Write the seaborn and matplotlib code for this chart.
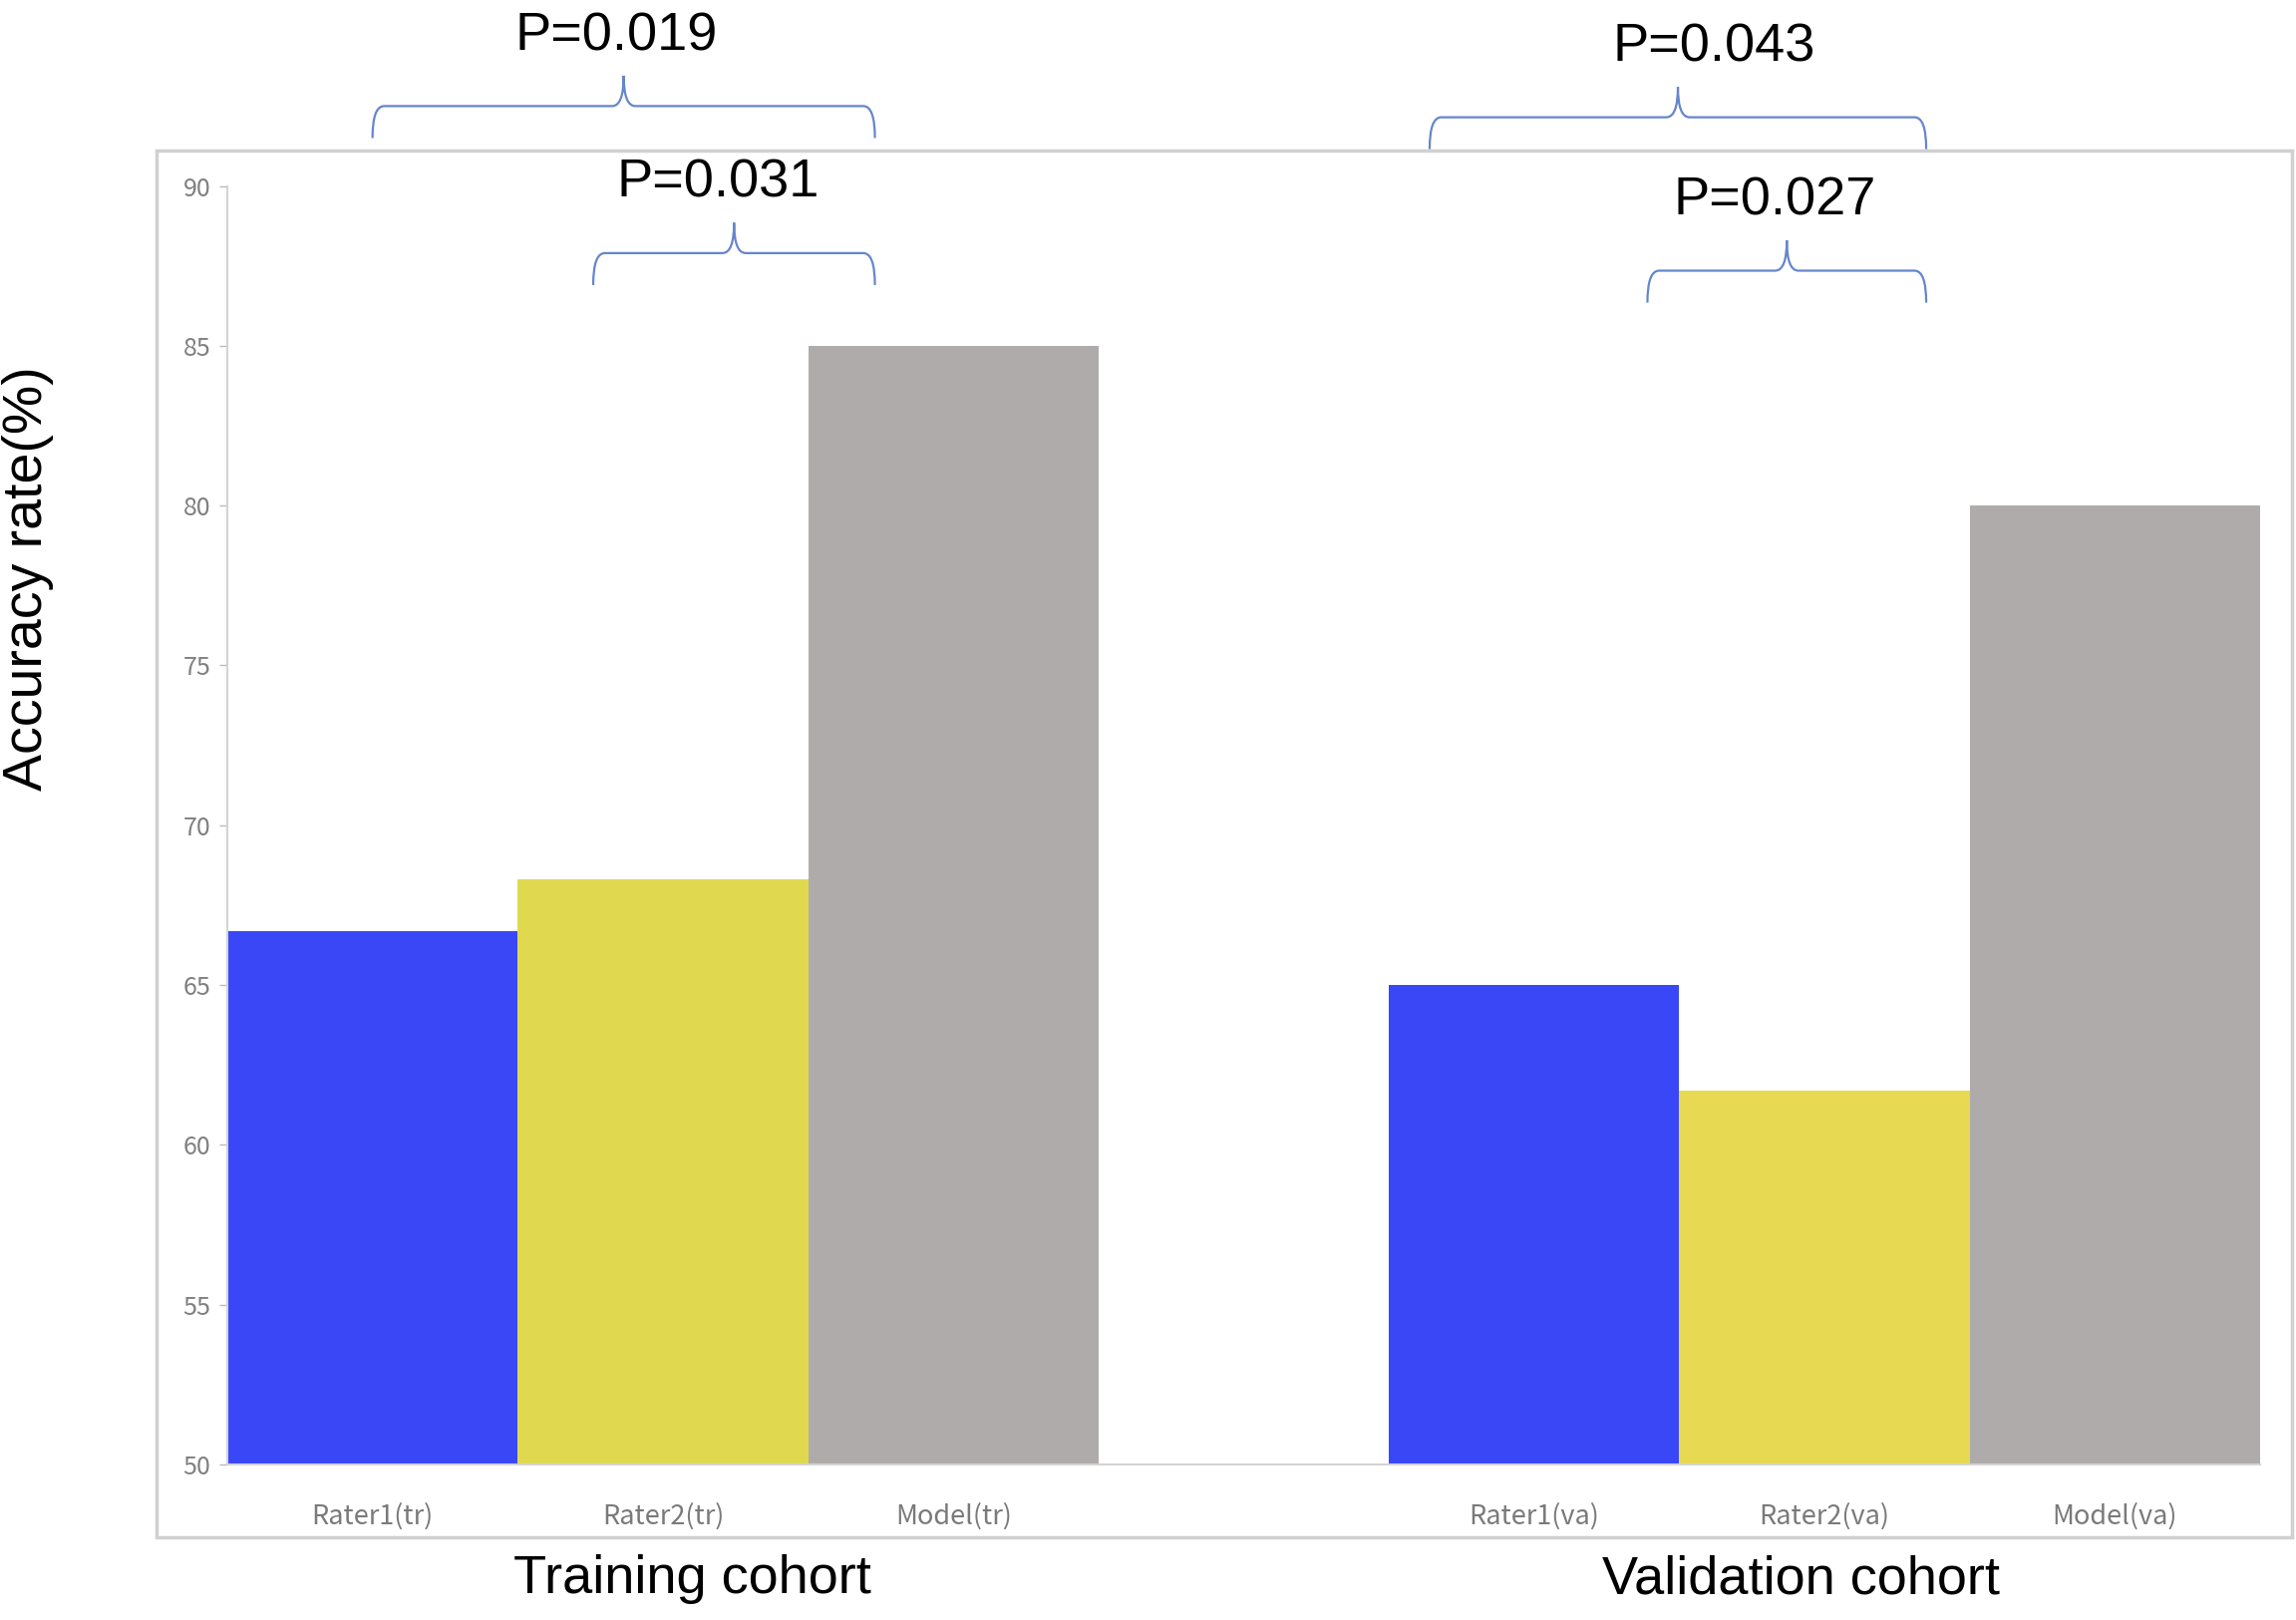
import numpy as np
import pandas as pd
import matplotlib
matplotlib.use('Agg')
import matplotlib.pyplot as plt
import seaborn as sns
from matplotlib.path import Path
from matplotlib.patches import PathPatch, Rectangle

# bar data
labels = ['Rater1(tr)', 'Rater2(tr)', 'Model(tr)', 'Rater1(va)', 'Rater2(va)', 'Model(va)']
accuracy = [66.7, 68.3, 85.0, 65.0, 61.7, 80.0]
colors = ['#3a47f6', '#e0d94f', '#b0abab', '#3a47f6', '#e8d952', '#b0abab']
order = ['Rater1(tr)', 'Rater2(tr)', 'Model(tr)', ' ', 'Rater1(va)', 'Rater2(va)', 'Model(va)']

groups = ['Training cohort', 'Validation cohort']

# significance braces (x in category slots, y in axis units)
p_labels = ['P=0.019', 'P=0.031', 'P=0.043', 'P=0.027']
brace_left = [0.0, 0.76, 3.64, 4.39]
brace_right = [1.73, 1.73, 5.35, 5.35]
brace_base = [91.5, 86.9, 91.15, 86.35]
p_text_x = [0.84, 1.19, 4.62, 4.83]

df = pd.DataFrame({'label': labels, 'acc': accuracy})

sns.set_theme(style='white')
plt.rcParams['font.family'] = ['Liberation Sans', 'DejaVu Sans']
plt.rcParams['text.color'] = 'black'

fig = plt.figure(figsize=(23.03, 16.25), dpi=100)
ax = fig.add_axes([0.0990, 0.0960, 0.8854, 0.7892])

sns.barplot(data=df, x='label', y='acc', hue='label', order=order,
            palette=dict(zip(labels, colors)), legend=False,
            width=1.0, linewidth=0, saturation=1, ax=ax)

ax.set_xlim(-0.5, 6.5)
ax.set_ylim(50, 90)
ax.set_yticks(np.arange(50, 91, 5))
ax.set_xlabel('')
ax.set_ylabel('')

for s in ['top', 'right']:
    ax.spines[s].set_visible(False)
for s in ['left', 'bottom']:
    ax.spines[s].set_color('#d4d4d4')
    ax.spines[s].set_linewidth(1.5)

ax.tick_params(axis='y', left=True, length=6, width=1, color='#bbbbbb',
               labelsize=18, labelcolor='#808080', pad=6)
ax.tick_params(axis='x', bottom=False, labelsize=19.5, labelcolor='#7a7a7a', pad=22)
for t in ax.get_xticklabels() + ax.get_yticklabels():
    t.set_fontfamily(['Noto Sans CJK SC', 'DejaVu Sans'])
    t.set_fontweight('light')

# y label and group labels
fig.text(0.012, 0.643, 'Accuracy rate(%)', rotation=90, fontsize=40,
         ha='center', va='center', color='black')
trans = matplotlib.transforms.blended_transform_factory(ax.transData, fig.transFigure)
ax.text(1.1, 0.025, groups[0], transform=trans, ha='center', va='center',
        fontsize=39, color='black')
ax.text(4.92, 0.025, groups[1], transform=trans, ha='center', va='center',
        fontsize=39, color='black')

# outer frame
fig.patches.append(Rectangle((0.0682, 0.0511), 0.9301, 0.856, transform=fig.transFigure,
                             fill=False, ec='#d0d0d0', lw=2.5))


def brace(x0, x1, yb, ax):
    h = 1.0
    tip = 1.95
    dx = 0.04
    xm = (x0 + x1) / 2
    yf = yb + h
    yt = yb + tip
    verts = [(x0, yb), (x0, yf), (x0 + dx, yf),
             (xm - dx, yf), (xm, yf), (xm, yt),
             (xm, yf), (xm + dx, yf),
             (x1 - dx, yf), (x1, yf), (x1, yb)]
    codes = [Path.MOVETO, Path.CURVE3, Path.CURVE3,
             Path.LINETO, Path.CURVE3, Path.CURVE3,
             Path.CURVE3, Path.CURVE3,
             Path.LINETO, Path.CURVE3, Path.CURVE3]
    patch = PathPatch(Path(verts, codes), fill=False, ec='#6586cc', lw=1.6, clip_on=False)
    ax.add_patch(patch)
    return xm, yt


for lab, x0, x1, yb, tx in zip(p_labels, brace_left, brace_right, brace_base, p_text_x):
    xm, yt = brace(x0, x1, yb, ax)
    ax.text(tx, yt + 0.45, lab, ha='center', va='bottom', fontsize=39,
            color='black', clip_on=False)

fig.savefig('out.png', dpi=100)
